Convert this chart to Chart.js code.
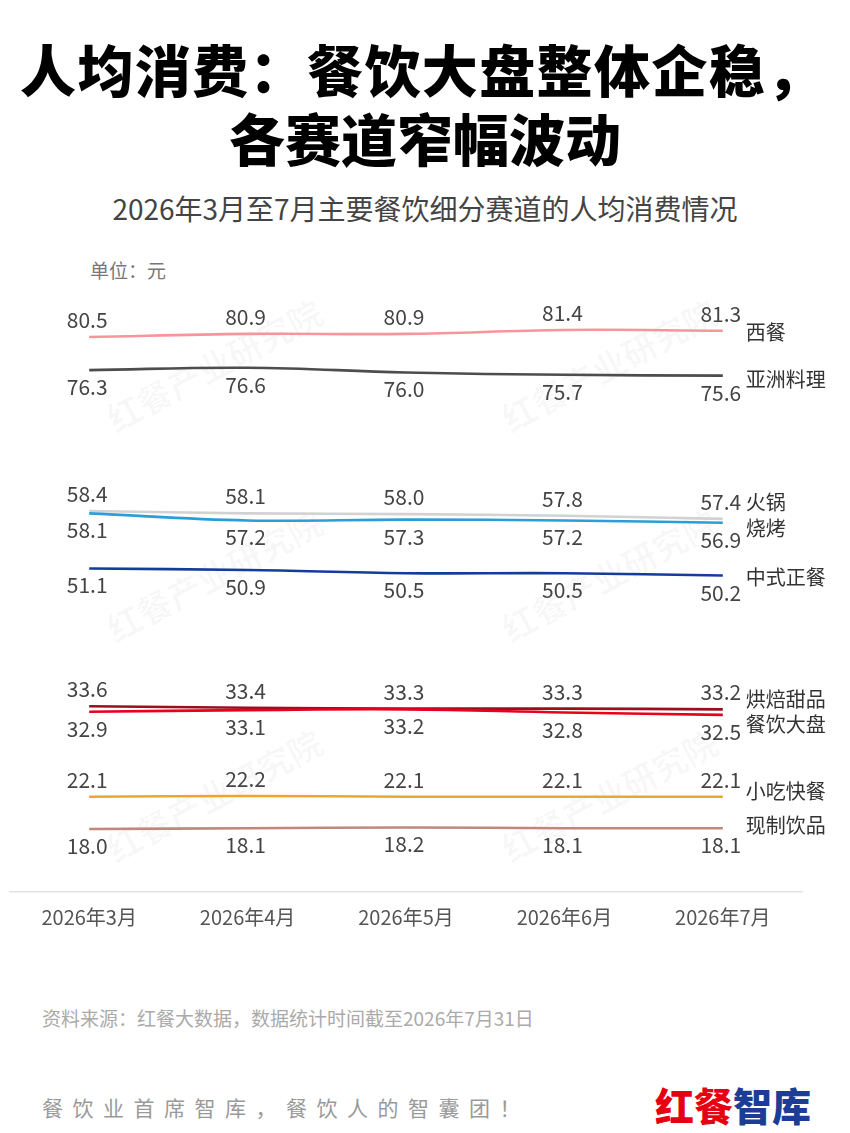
<!DOCTYPE html>
<html>
<head>
<meta charset="utf-8">
<script src="https://cdn.jsdelivr.net/npm/chart.js@4/dist/chart.umd.min.js"></script>
<style>
  html, body { margin: 0; padding: 0; background: #fff; }
  body { width: 850px; height: 1133px; position: relative; overflow: hidden; font-family: "Noto Sans CJK SC", sans-serif; }
  .abs { position: absolute; white-space: nowrap; }
  .title { font-size: 56px; line-height: 56px; font-weight: 900; color: #000; }
  .wm { position: absolute; font-size: 34px; font-weight: 700; color: rgba(0,0,0,0.03); transform: rotate(-28deg); white-space: nowrap; }
  #box { position: absolute; left: 0; top: 260px; width: 850px; height: 680px; }
</style>
</head>
<body>
<div class="wm" style="left:95px;top:340px;">红餐产业研究院</div>
<div class="wm" style="left:490px;top:340px;">红餐产业研究院</div>
<div class="wm" style="left:95px;top:550px;">红餐产业研究院</div>
<div class="wm" style="left:490px;top:550px;">红餐产业研究院</div>
<div class="wm" style="left:95px;top:770px;">红餐产业研究院</div>
<div class="wm" style="left:490px;top:770px;">红餐产业研究院</div>

<div class="abs title" style="left:20px;top:40px;letter-spacing:1.4px;">人均消费：餐饮大盘整体企稳，</div>
<div class="abs title" style="left:0;width:850px;text-align:center;top:109px;">各赛道窄幅波动</div>
<div class="abs" style="left:0;width:850px;text-align:center;top:192px;font-size:28px;line-height:32px;color:#444;">2026年3月至7月主要餐饮细分赛道的人均消费情况</div>
<div class="abs" style="left:90px;top:258px;font-size:19px;line-height:24px;color:#777;">单位：元</div>

<div id="box"><canvas id="myChart"></canvas></div>

<div class="abs" style="left:42px;top:1006px;font-size:19px;line-height:24px;color:#aaa;">资料来源：红餐大数据，数据统计时间截至2026年7月31日</div>
<div class="abs" style="left:42px;top:1094px;font-size:21px;line-height:26px;letter-spacing:9.5px;color:#9a9a9a;">餐饮业首席智库，餐饮人的智囊团！</div>
<div class="abs" style="left:655px;top:1082px;font-size:39px;line-height:44px;font-weight:900;"><span style="color:#e60012;">红餐</span><span style="color:#1d3c96;">智库</span></div>

<script>
const months = ['2026年3月', '2026年4月', '2026年5月', '2026年6月', '2026年7月'];
const seriesNames = ['西餐', '亚洲料理', '火锅', '烧烤', '中式正餐', '烘焙甜品', '餐饮大盘', '小吃快餐', '现制饮品'];

const western = [80.5, 80.9, 80.9, 81.4, 81.3];
const asian = [76.3, 76.6, 76.0, 75.7, 75.6];
const hotpot = [58.4, 58.1, 58.0, 57.8, 57.4];
const bbq = [58.1, 57.2, 57.3, 57.2, 56.9];
const chinese = [51.1, 50.9, 50.5, 50.5, 50.2];
const bakery = [33.6, 33.4, 33.3, 33.3, 33.2];
const overall = [32.9, 33.1, 33.2, 32.8, 32.5];
const snack = [22.1, 22.2, 22.1, 22.1, 22.1];
const drinks = [18.0, 18.1, 18.2, 18.1, 18.1];

const seriesValues = [western, asian, hotpot, bbq, chinese, bakery, overall, snack, drinks];

// styling per series
const lineColors = ['#f7959b', '#4d4d4d', '#d2d2d2', '#2a9ed8', '#133c9b', '#9a0f1e', '#e8001c', '#f0a52a', '#c2877c'];
const labelSide = ['up', 'down', 'up', 'down', 'down', 'up', 'down', 'up', 'down'];
const nameShift = [2, 4, -16, 6, 2, -10, 10, -5, -3];
const drawOrder = [1, 2, 4, 3, 5, 7, 6, 8, 9];

const fontFamily = '"Noto Sans CJK SC", sans-serif';

const valueLabels = {
  id: 'valueLabels',
  afterDatasetsDraw(chart) {
    const c = chart.ctx;
    c.save();
    chart.data.datasets.forEach((ds, i) => {
      const meta = chart.getDatasetMeta(i);
      c.font = '21px ' + fontFamily;
      c.fillStyle = '#444';
      c.textAlign = 'center';
      c.textBaseline = 'middle';
      meta.data.forEach((pt, j) => {
        const dy = labelSide[i] === 'up' ? -17 : 17;
        c.fillText(ds.data[j].toFixed(1), pt.x - 2, pt.y + dy);
      });
      const last = meta.data[meta.data.length - 1];
      c.font = '20px ' + fontFamily;
      c.fillStyle = '#333';
      c.textAlign = 'left';
      c.fillText(ds.label, last.x + 23, last.y + nameShift[i]);
    });
    c.restore();
  }
};

const ctx = document.getElementById('myChart');

var chart = new Chart(ctx, {
  type: 'line',
  data: {
    labels: months,
    datasets: seriesNames.map((name, i) => ({
      label: name,
      data: seriesValues[i],
      borderColor: lineColors[i],
      backgroundColor: lineColors[i],
      borderWidth: 2.6,
      pointRadius: 0,
      tension: 0.4,
      fill: false,
      order: drawOrder[i]
    }))
  },
  options: {
    responsive: true,
    maintainAspectRatio: false,
    animation: false,
    layout: { padding: { left: 10, right: 48, top: 18, bottom: 0 } },
    plugins: {
      legend: { display: false },
      title: { display: false },
      tooltip: { enabled: false }
    },
    scales: {
      x: {
        offset: true,
        grid: { display: false, drawTicks: false },
        border: { display: true, color: '#e3e3e3', width: 1.5 },
        ticks: { color: '#555', font: { size: 20, family: fontFamily }, padding: 13, maxRotation: 0 },
        afterFit: (scale) => { scale.height = 48; }
      },
      y: {
        display: false,
        min: 10,
        max: 88
      }
    }
  },
  plugins: [valueLabels]
});
</script>
</body>
</html>
